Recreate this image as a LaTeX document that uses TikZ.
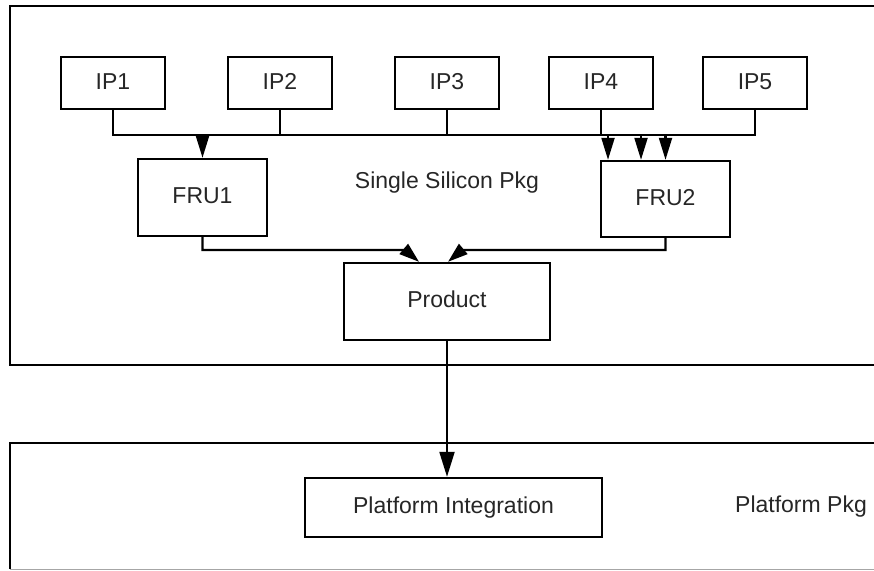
\documentclass[tikz,border=0pt]{standalone}
\usepackage{fontspec}
\setmainfont{Liberation Sans}
\usetikzlibrary{arrows.meta}
\definecolor{labelgray}{HTML}{262626}
\begin{document}
\begin{tikzpicture}[x=1pt,y=-1pt,
  box/.style={draw=black,line width=2.4pt,fill=white,inner sep=0pt,
    text=labelgray,font=\fontsize{23}{27}\selectfont,
    text height=17pt,text depth=5pt},
  label/.style={text=labelgray,font=\fontsize{23}{27}\selectfont,inner sep=0pt},
  frame/.style={draw=black,line width=2.4pt},
  conn/.style={draw=black,line width=2.1pt},
  arr/.style={conn,-{Triangle[width=13pt,length=22pt]}},
  slantarr/.style={conn,-{Triangle[width=13pt,length=20pt]}},
  bigarr/.style={conn,-{Triangle[width=15pt,length=25pt]}}]
\useasboundingbox (0,0) rectangle (874,570);
\clip (0,0) rectangle (874,570);

% package frames (they run past the right edge)
\draw[frame] (884,6) -- (10,6) -- (10,365) -- (884,365);
\draw[frame] (884,443) -- (10,443) -- (10,569);
\draw[line width=1pt,draw=black!35] (10,569) -- (884,569);

\node[label,anchor=base] (silicon) at (447,188) {Single Silicon Pkg};
\node[label,anchor=base] (platpkg) at (801,512) {Platform Pkg};

% IP blocks
\node[box,minimum width=104pt,minimum height=52pt] (ip1) at (113,83) {IP1};
\node[box,minimum width=104pt,minimum height=52pt] (ip2) at (280,83) {IP2};
\node[box,minimum width=104pt,minimum height=52pt] (ip3) at (447,83) {IP3};
\node[box,minimum width=104pt,minimum height=52pt] (ip4) at (601,83) {IP4};
\node[box,minimum width=104pt,minimum height=52pt] (ip5) at (755,83) {IP5};

% FRUs, product, platform
\node[box,minimum width=129pt,minimum height=77pt] (fru1) at (202.5,197.5) {FRU1};
\node[box,minimum width=129pt,minimum height=76pt] (fru2) at (665.5,199) {FRU2};
\node[box,minimum width=206pt,minimum height=77pt] (product) at (447,301.5) {Product};
\node[box,minimum width=297pt,minimum height=59pt] (platform) at (453.5,507.5) {Platform Integration};

% shared bus below the IP blocks
\coordinate (bus) at (0,135);
\draw[conn] (ip1.south) |- (ip5.south |- bus) -- (ip5.south);
\draw[conn] (ip2.south) -- (ip2.south |- bus);
\draw[conn] (ip3.south) -- (ip3.south |- bus);
\draw[conn] (ip4.south) -- (ip4.south |- bus);

\draw[arr] (fru1.north |- bus) -- (fru1.north);
\draw[arr] ([xshift=-57.5pt]fru2.north |- bus) -- ([xshift=-57.5pt]fru2.north);
\draw[arr] ([xshift=-24.5pt]fru2.north |- bus) -- ([xshift=-24.5pt]fru2.north);
\draw[arr] (fru2.north |- bus) -- (fru2.north);

% FRUs into the product
\coordinate (join) at (0,250);
\draw[slantarr] (fru1.south) |- ([xshift=-42pt]product.north |- join) -- ([xshift=-28pt]product.north);
\draw[slantarr] (fru2.south) |- ([xshift=15pt]product.north |- join) -- ([xshift=1pt]product.north);

% product down to platform
\draw[bigarr] (product.south) -- (product.south |- platform.north);
\end{tikzpicture}
\end{document}
